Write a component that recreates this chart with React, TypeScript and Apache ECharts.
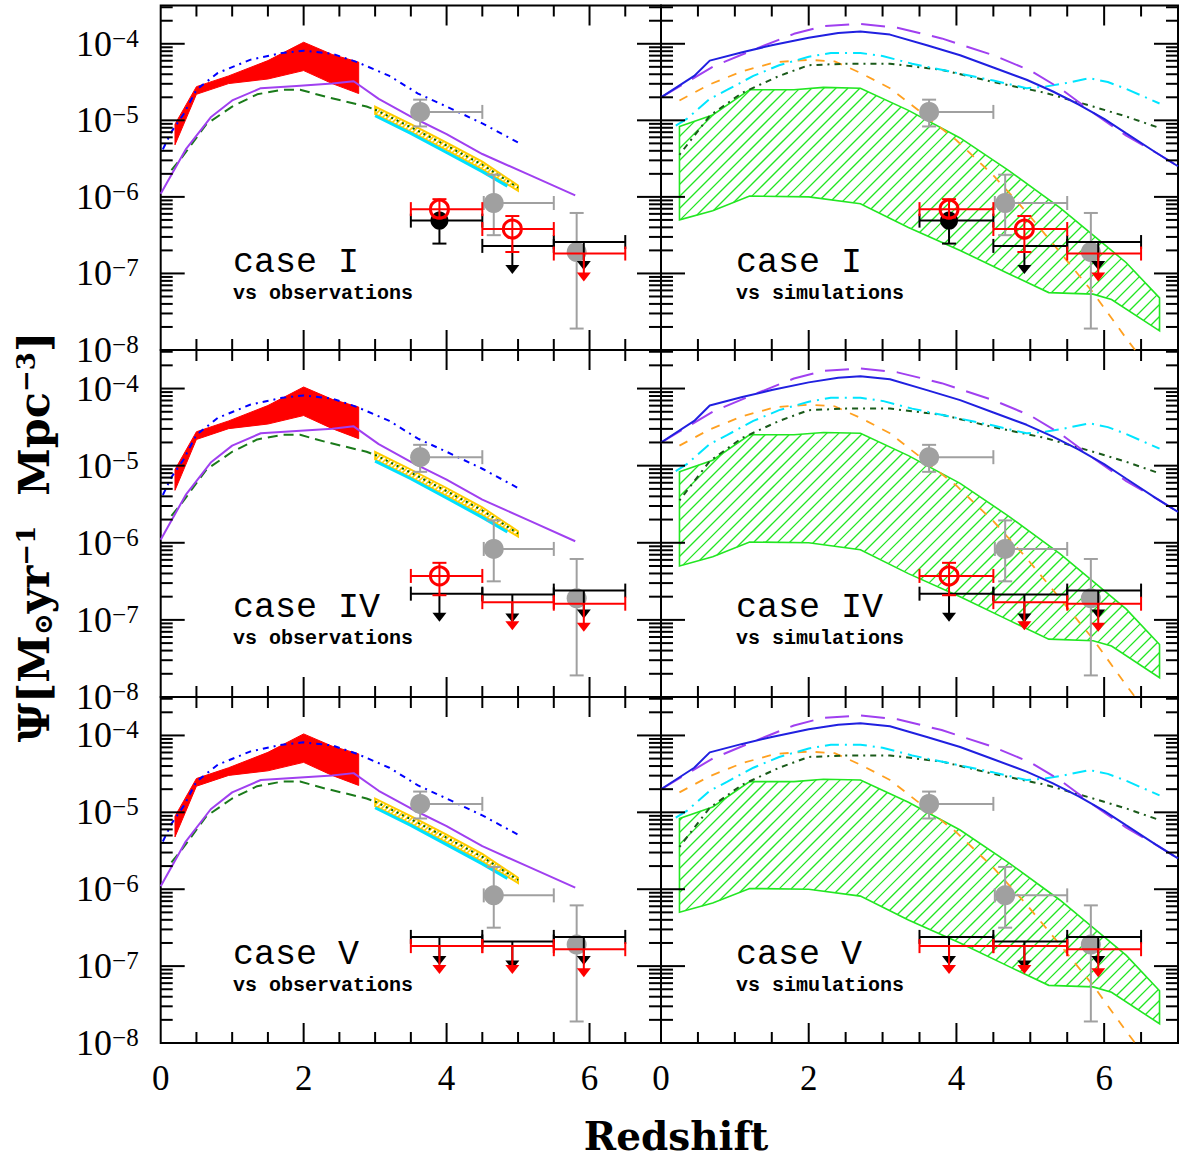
import React, { useEffect, useRef } from 'react';
import * as echarts from 'echarts';

// ---------- axes ----------
const X_MIN = 0;
const X_MAX = 7;
const Y_MIN = -8; // log10 Psi
const Y_MAX = -3.5;
const xTickLabels = [0, 2, 4, 6];
const caseNames = ['case I', 'case IV', 'case V'];
const subNames = ['vs observations', 'vs simulations'];

// ---------- left panels: observational estimates (log10 Psi) ----------
const redBandZ = [0.2, 0.5, 0.95, 1.5, 2.0, 2.4, 2.77];
const redBandHi = [-5.05, -4.56, -4.42, -4.22, -3.98, -4.14, -4.24];
const redBandLo = [-5.32, -4.66, -4.52, -4.46, -4.35, -4.52, -4.65];

const obsBlueZ = [0.03, 0.15, 0.32, 0.5, 0.8, 1.25, 1.7, 2.0, 2.4, 2.75, 3.2, 3.6, 4.0, 4.5, 5.0];
const obsBlue = [-5.38, -5.15, -4.92, -4.6, -4.38, -4.21, -4.12, -4.09, -4.13, -4.24, -4.42, -4.65, -4.82, -5.04, -5.29];

const obsPurpleZ = [0.0, 0.35, 0.7, 1.0, 1.4, 1.9, 2.4, 2.7, 3.05, 3.5, 4.0, 4.5, 5.15, 5.8];
const obsPurple = [-5.96, -5.38, -4.96, -4.74, -4.58, -4.55, -4.52, -4.49, -4.72, -4.95, -5.18, -5.44, -5.71, -5.98];

const obsGreenZ = [0.15, 0.3, 0.64, 1.0, 1.35, 1.7, 1.95, 2.3, 2.88, 3.0];
const obsGreen = [-5.65, -5.48, -5.05, -4.82, -4.66, -4.6, -4.6, -4.69, -4.82, -4.86];

const yellowZ = [3.0, 3.5, 4.0, 4.5, 5.0];
const yellowHi = [-4.82, -5.05, -5.29, -5.54, -5.85];
const yellowLo = [-4.92, -5.15, -5.39, -5.64, -5.92];
const yellowMid = [-4.86, -5.09, -5.33, -5.58, -5.88];
const cyanObsZ = [3.0, 3.5, 4.0, 4.5, 4.85];
const cyanObs = [-4.94, -5.17, -5.42, -5.67, -5.86];

// ---------- right panels: simulations (log10 Psi) ----------
const simBlueZ = [0.0, 0.45, 0.66, 1.1, 1.5, 2.0, 2.4, 2.7, 3.1, 3.6, 4.05, 4.5, 4.95, 5.3, 5.65, 6.0, 6.3, 6.7, 7.0];
const simBlue = [-4.7, -4.42, -4.22, -4.11, -4.02, -3.92, -3.86, -3.84, -3.88, -4.02, -4.15, -4.31, -4.47, -4.62, -4.79, -4.98, -5.17, -5.42, -5.6];

const simPurpleZ = [0.0, 0.7, 1.3, 1.8, 2.2, 2.7, 3.2, 3.8, 4.5, 5.0, 5.4, 5.85, 6.3, 6.7, 7.0];
const simPurple = [-4.7, -4.3, -4.06, -3.87, -3.77, -3.74, -3.79, -3.93, -4.15, -4.35, -4.58, -4.9, -5.2, -5.42, -5.6];

const simCyanZ = [0.2, 0.35, 0.66, 0.9, 1.25, 1.6, 2.0, 2.3, 2.7, 3.0, 3.4, 4.0, 4.5, 4.95, 5.2, 5.45, 5.8, 6.05, 6.3, 6.75];
const simCyan = [-5.07, -4.98, -4.72, -4.6, -4.42, -4.28, -4.17, -4.12, -4.12, -4.16, -4.26, -4.38, -4.48, -4.58, -4.56, -4.52, -4.45, -4.5, -4.59, -4.78];

const simOrangeZ = [0.25, 0.66, 1.1, 1.55, 2.0, 2.35, 2.7, 3.1, 3.5, 4.0, 4.5, 4.95, 5.4, 5.85, 6.3, 6.5];
const simOrange = [-4.74, -4.53, -4.36, -4.24, -4.21, -4.23, -4.38, -4.58, -4.88, -5.26, -5.72, -6.2, -6.72, -7.25, -7.85, -8.1];

const simDkGreenZ = [0.25, 0.66, 1.1, 1.6, 2.0, 2.5, 3.1, 3.8, 4.5, 5.2, 5.85, 6.3, 6.75];
const simDkGreen = [-5.45, -4.94, -4.64, -4.42, -4.28, -4.26, -4.26, -4.34, -4.5, -4.64, -4.82, -4.95, -5.1];

const greenHiZ = [0.25, 0.7, 1.2, 1.8, 2.2, 2.7, 3.35, 4.05, 4.7, 5.4, 5.85, 6.3, 6.75];
const greenHi = [-5.08, -4.93, -4.6, -4.6, -4.57, -4.58, -4.87, -5.23, -5.65, -6.14, -6.5, -6.86, -7.32];
const greenLoZ = [0.25, 0.7, 1.2, 2.0, 2.7, 3.35, 4.05, 4.7, 5.25, 5.85, 6.1, 6.75];
const greenLo = [-6.3, -6.18, -5.99, -6.0, -6.09, -6.4, -6.7, -7.0, -7.25, -7.27, -7.34, -7.75];

// ---------- data points: [z, log10 Psi, zLow, zHigh, log10 Low, log10 High] ----------
const grayPts = [
  [3.63, -4.89, 3.55, 4.5, -5.08, -4.73],
  [4.66, -6.08, 4.52, 5.5, -6.5, -5.71],
  [5.82, -6.72, 5.82, 5.82, -7.72, -6.21],
];

const caseI_blackDots = [[3.9, -6.31, 3.5, 4.5, -6.61, -6.31]];
const caseI_redCircles = [
  [3.9, -6.16, 3.5, 4.5, -6.27, -6.03],
  [4.92, -6.42, 4.5, 5.5, -6.72, -6.25],
];
const caseI_blackLimits = [[4.92, -6.64, 4.5, 5.5], [5.92, -6.59, 5.5, 6.5]];
const caseI_redLimits = [[5.92, -6.74, 5.5, 6.5]];

const caseIV_blackDots: number[][] = [];
const caseIV_redCircles = [[3.9, -6.43, 3.5, 4.5, -6.68, -6.26]];
const caseIV_blackLimits = [[3.9, -6.66, 3.5, 4.5], [4.92, -6.67, 4.5, 5.5], [5.92, -6.62, 5.5, 6.5]];
const caseIV_redLimits = [[4.92, -6.77, 4.5, 5.5], [5.92, -6.79, 5.5, 6.5]];

const caseV_blackDots: number[][] = [];
const caseV_redCircles: number[][] = [];
const caseV_blackLimits = [[3.9, -6.62, 3.5, 4.5], [4.92, -6.68, 4.5, 5.5], [5.92, -6.62, 5.5, 6.5]];
const caseV_redLimits = [[3.9, -6.74, 3.5, 4.5], [4.92, -6.74, 4.5, 5.5], [5.92, -6.78, 5.5, 6.5]];

const cases = [
  { black: caseI_blackDots, red: caseI_redCircles, bLim: caseI_blackLimits, rLim: caseI_redLimits },
  { black: caseIV_blackDots, red: caseIV_redCircles, bLim: caseIV_blackLimits, rLim: caseIV_redLimits },
  { black: caseV_blackDots, red: caseV_redCircles, bLim: caseV_blackLimits, rLim: caseV_redLimits },
];

// ---------- layout ----------
const colLeft = [160.7, 661];
const colWidth = [500.3, 517];
const rowTop = [5.5, 350, 697];
const rowHeight = [344.5, 347, 346];

const SERIF = '"Liberation Serif", "DejaVu Serif", serif';
const MONO = '"Liberation Mono", "DejaVu Sans Mono", monospace';
const BOLDSERIF = '"DejaVu Serif", serif';

function lineSeries(gi: number, zs: number[], ys: number[], color: string, type: any, width: number) {
  return {
    type: 'line', xAxisIndex: gi, yAxisIndex: gi, silent: true, z: 3,
    data: zs.map((z, i) => [z, ys[i]]),
    symbol: 'none', clip: true,
    lineStyle: { color, width, type },
  };
}

function bandSeries(gi: number, zHi: number[], hi: number[], zLo: number[], lo: number[],
  color: string, spacing: number, lw: number, fill: string | null) {
  return {
    type: 'custom', xAxisIndex: gi, yAxisIndex: gi, silent: true, z: 2,
    data: [[zHi[0], hi[0]]],
    renderItem: (_p: any, api: any) => {
      const poly: number[][] = [];
      zHi.forEach((z, i) => poly.push(api.coord([z, hi[i]])));
      for (let i = zLo.length - 1; i >= 0; i--) poly.push(api.coord([zLo[i], lo[i]]));
      const ch: any[] = [];
      if (fill) ch.push({ type: 'polygon', shape: { points: poly }, style: { fill, stroke: fill, lineWidth: 1 } });
      if (spacing > 0) {
        let cmin = Infinity, cmax = -Infinity;
        poly.forEach(p => { const s = p[0] + p[1]; cmin = Math.min(cmin, s); cmax = Math.max(cmax, s); });
        for (let cc = Math.ceil(cmin / spacing) * spacing; cc <= cmax; cc += spacing) {
          const xs: number[][] = [];
          for (let i = 0; i < poly.length; i++) {
            const a = poly[i], b = poly[(i + 1) % poly.length];
            const fa = a[0] + a[1] - cc, fb = b[0] + b[1] - cc;
            if ((fa < 0) !== (fb < 0)) {
              const t = fa / (fa - fb);
              xs.push([a[0] + t * (b[0] - a[0]), a[1] + t * (b[1] - a[1])]);
            }
          }
          xs.sort((p, q) => p[0] - q[0]);
          for (let k = 0; k + 1 < xs.length; k += 2) {
            ch.push({ type: 'line', shape: { x1: xs[k][0], y1: xs[k][1], x2: xs[k + 1][0], y2: xs[k + 1][1] }, style: { stroke: color, lineWidth: lw } });
          }
        }
        ch.push({ type: 'polygon', shape: { points: poly }, style: { fill: 'none', stroke: color, lineWidth: lw + 0.3 } });
      }
      return { type: 'group', children: ch };
    },
  };
}

function pointSeries(gi: number, data: number[][], opts: any) {
  return {
    type: 'custom', xAxisIndex: gi, yAxisIndex: gi, silent: true, z: opts.z,
    data,
    renderItem: (_p: any, api: any) => {
      const z = api.value(0), v = api.value(1), zl = api.value(2), zh = api.value(3);
      const c = api.coord([z, v]);
      const ch: any[] = [];
      const ln = (x1: number, y1: number, x2: number, y2: number) =>
        ch.push({ type: 'line', shape: { x1, y1, x2, y2 }, style: { stroke: opts.color, lineWidth: opts.lw } });
      if (zh > zl) {
        const a = api.coord([zl, v]), b = api.coord([zh, v]);
        ln(a[0], a[1], b[0], b[1]);
        ln(a[0], a[1] - 7, a[0], a[1] + 7);
        ln(b[0], b[1] - 7, b[0], b[1] + 7);
      }
      if (opts.yerr) {
        const lo = api.value(4), hi = api.value(5);
        const a = api.coord([z, lo]), b = api.coord([z, hi]);
        ln(a[0], a[1], b[0], b[1]);
        if (lo < v) ln(a[0] - 7, a[1], a[0] + 7, a[1]);
        if (hi > v) ln(b[0] - 7, b[1], b[0] + 7, b[1]);
      }
      if (opts.arrow) {
        ln(c[0], c[1], c[0], c[1] + 22);
        ch.push({ type: 'polygon', shape: { points: [[c[0] - 7, c[1] + 19], [c[0] + 7, c[1] + 19], [c[0], c[1] + 28]] }, style: { fill: opts.color } });
      }
      if (opts.circle === 'filled') ch.push({ type: 'circle', shape: { cx: c[0], cy: c[1], r: opts.r }, style: { fill: opts.color } });
      if (opts.circle === 'open') ch.push({ type: 'circle', shape: { cx: c[0], cy: c[1], r: opts.r }, style: { fill: 'none', stroke: opts.color, lineWidth: 3 } });
      return { type: 'group', children: ch };
    },
  };
}

function tickSeries(gi: number) {
  return {
    type: 'custom', xAxisIndex: gi, yAxisIndex: gi, silent: true, z: 10,
    data: [[X_MIN, Y_MIN]],
    renderItem: (_p: any, api: any) => {
      const ch: any[] = [];
      const add = (x1: number, y1: number, x2: number, y2: number) =>
        ch.push({ type: 'line', shape: { x1, y1, x2, y2 }, style: { stroke: '#000', lineWidth: 2 } });
      for (let v = 0.5; v < X_MAX - 1e-9; v += 0.5) {
        const major = Math.abs(v / 2 - Math.round(v / 2)) < 1e-9;
        const L = major ? 20 : 11;
        const b = api.coord([v, Y_MIN]), t = api.coord([v, Y_MAX]);
        add(b[0], b[1], b[0], b[1] - L);
        add(t[0], t[1], t[0], t[1] + L);
      }
      for (let d = Y_MIN; d < Y_MAX; d++) {
        for (let k = 1; k <= 9; k++) {
          const v = d + Math.log10(k);
          if (v >= Y_MAX || (k === 1 && d === Y_MIN)) continue;
          const L = k === 1 ? 24 : 12;
          const l = api.coord([X_MIN, v]), r = api.coord([X_MAX, v]);
          add(l[0], l[1], l[0] + L, l[1]);
          add(r[0], r[1], r[0] - L, r[1]);
        }
      }
      return { type: 'group', children: ch };
    },
  };
}

function buildOption() {
  const grid: any[] = [], xAxis: any[] = [], yAxis: any[] = [], series: any[] = [], graphic: any[] = [];
  for (let r = 0; r < 3; r++) {
    for (let c = 0; c < 2; c++) {
      const gi = r * 2 + c;
      grid.push({ left: colLeft[c], top: rowTop[r], width: colWidth[c], height: rowHeight[r], show: true, borderColor: '#000', borderWidth: 2, containLabel: false });
      xAxis.push({
        gridIndex: gi, type: 'value', min: X_MIN, max: X_MAX, interval: 2,
        axisLine: { show: false }, axisTick: { show: false }, splitLine: { show: false },
        axisLabel: {
          show: r === 2, margin: 18, color: '#000', fontFamily: SERIF, fontSize: 35,
          formatter: (v: number) => (xTickLabels.indexOf(Math.round(v)) >= 0 && Math.abs(v - Math.round(v)) < 1e-9 ? String(Math.round(v)) : ''),
        },
      });
      yAxis.push({
        gridIndex: gi, type: 'value', min: Y_MIN, max: Y_MAX, interval: 1,
        axisLine: { show: false }, axisTick: { show: false }, splitLine: { show: false },
        axisLabel: {
          show: c === 0, margin: 22,
          formatter: (v: number) => (Math.abs(v - Math.round(v)) < 1e-9 ? `{b|10}{s|−${Math.round(-v)}}` : ''),
          rich: {
            b: { fontSize: 36, fontFamily: SERIF, color: '#000' },
            s: { fontSize: 25, fontFamily: SERIF, color: '#000', verticalAlign: 'top' },
          },
        },
      });

      if (c === 0) {
        series.push(bandSeries(gi, redBandZ, redBandHi, redBandZ, redBandLo, '#ff0000', 0, 1, '#ff0000'));
        series.push(bandSeries(gi, yellowZ, yellowHi, yellowZ, yellowLo, '#ffcc00', 5, 1.6, null));
        series.push(lineSeries(gi, cyanObsZ, cyanObs, '#00e0ff', 'solid', 3));
        series.push(lineSeries(gi, yellowZ, yellowMid, '#006400', [2, 4], 2));
        series.push(lineSeries(gi, obsGreenZ, obsGreen, '#1a7a1a', [10, 6], 2));
        series.push(lineSeries(gi, obsPurpleZ, obsPurple, '#a040f0', 'solid', 2));
        series.push(lineSeries(gi, obsBlueZ, obsBlue, '#0000ff', [6, 5, 2, 5], 2));
      } else {
        series.push(bandSeries(gi, greenHiZ, greenHi, greenLoZ, greenLo, '#22e622', 12, 1.3, null));
        series.push(lineSeries(gi, simOrangeZ, simOrange, '#ffa020', [9, 9], 1.8));
        series.push(lineSeries(gi, simDkGreenZ, simDkGreen, '#1a5a1a', [2, 5, 6, 5], 2));
        series.push(lineSeries(gi, simCyanZ, simCyan, '#00e5ff', [14, 6, 2, 6], 2));
        series.push(lineSeries(gi, simPurpleZ, simPurple, '#a040f0', [24, 12], 2));
        series.push(lineSeries(gi, simBlueZ, simBlue, '#2020e0', 'solid', 2));
      }
      const cs = cases[r];
      series.push(pointSeries(gi, grayPts, { color: '#a0a0a0', lw: 2, yerr: true, circle: 'filled', r: 10, z: 5 }));
      series.push(pointSeries(gi, cs.bLim, { color: '#000', lw: 2, arrow: true, z: 6 }));
      series.push(pointSeries(gi, cs.black, { color: '#000', lw: 2, yerr: true, circle: 'filled', r: 9, z: 6 }));
      series.push(pointSeries(gi, cs.rLim, { color: '#ff0000', lw: 2, arrow: true, z: 7 }));
      series.push(pointSeries(gi, cs.red, { color: '#ff0000', lw: 2, yerr: true, circle: 'open', r: 9, z: 7 }));
      series.push(tickSeries(gi));

      const tx = c === 0 ? 233 : 736;
      const base = rowTop[r] + 270;
      graphic.push({
        type: 'text', x: tx, y: base + 5, silent: true,
        style: { text: caseNames[r], fontSize: 35, fontFamily: MONO, fill: '#000', textVerticalAlign: 'bottom', verticalAlign: 'bottom' },
      });
      graphic.push({
        type: 'text', x: tx, y: base + 28, silent: true,
        style: { text: subNames[c], fontSize: 20, fontWeight: 'bold', fontFamily: MONO, fill: '#000', textVerticalAlign: 'bottom', verticalAlign: 'bottom' },
      });
    }
  }
  graphic.push({
    type: 'text', x: 676, y: 1136, silent: true,
    style: { text: 'Redshift', fontSize: 39, fontWeight: 'bold', fontFamily: BOLDSERIF, fill: '#000', textAlign: 'center', align: 'center', textVerticalAlign: 'middle', verticalAlign: 'middle' },
  });
  graphic.push({
    type: 'text', x: 34, y: 537, rotation: Math.PI / 2, silent: true,
    style: {
      text: '{a|Ψ[M}{sub|⊙}{a|yr}{sup|−1}{a|  Mpc}{sup|−3}{a|]}',
      textAlign: 'center', align: 'center', textVerticalAlign: 'middle', verticalAlign: 'middle',
      rich: {
        a: { fontSize: 43, fontWeight: 'bold', fontFamily: BOLDSERIF, fill: '#000', color: '#000' },
        sub: { fontSize: 26, fontWeight: 'bold', fontFamily: BOLDSERIF, fill: '#000', color: '#000', verticalAlign: 'bottom' },
        sup: { fontSize: 26, fontWeight: 'bold', fontFamily: BOLDSERIF, fill: '#000', color: '#000', verticalAlign: 'top' },
      },
    },
  });

  return {
    animation: false,
    backgroundColor: '#fff',
    textStyle: { fontFamily: SERIF },
    grid, xAxis, yAxis, series, graphic,
  };
}

export default function App() {
  const ref = useRef<HTMLDivElement>(null);
  useEffect(() => {
    if (!ref.current) return;
    const chart = echarts.init(ref.current, null, { renderer: 'svg' });
    chart.setOption(buildOption() as any);
    return () => chart.dispose();
  }, []);
  return <div ref={ref} style={{ position: 'absolute', left: 0, top: 0, width: 1182, height: 1158 }} />;
}
